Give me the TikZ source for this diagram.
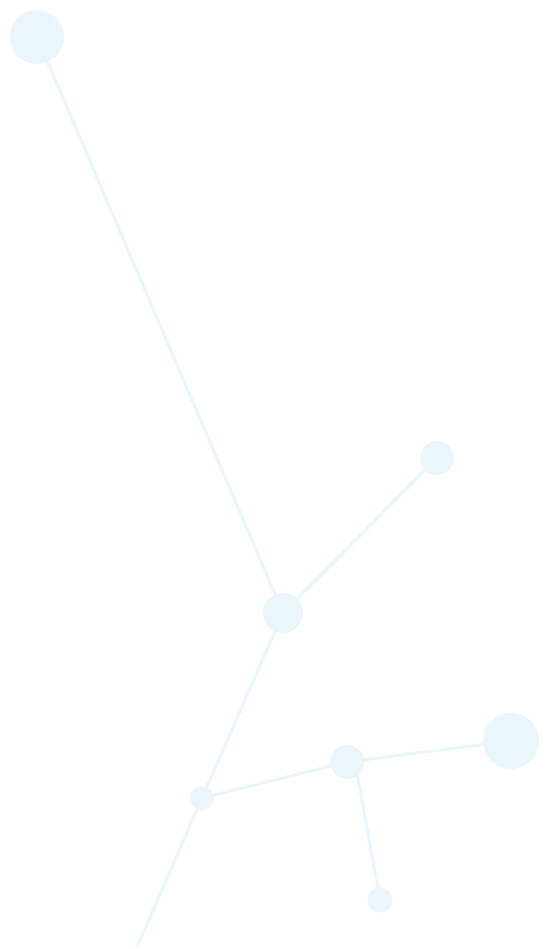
\documentclass[tikz,border=0pt]{standalone}
\definecolor{dotblue}{HTML}{EAF6FC}
\begin{document}
\begin{tikzpicture}[x=1pt,y=-1pt,
  dot/.style={circle,fill=dotblue,draw=none,inner sep=0pt,minimum size=#1},
  link/.style={draw=dotblue,line width=3pt,line cap=round}]
\useasboundingbox (0,0) rectangle (550,949);
\fill[white] (0,0) rectangle (550,949);
\node[dot=54pt] (A) at (37,37) {};
\node[dot=34pt] (B) at (437,458) {};
\node[dot=40pt] (C) at (283,613) {};
\node[dot=24pt] (D) at (202,798) {};
\node[dot=34pt] (E) at (347,762) {};
\node[dot=56pt] (F) at (511,741) {};
\node[dot=25pt] (G) at (380,900) {};
\coordinate (H) at (138,945);
\path[link] (A.center) -- (C.center);
\path[link] (B.center) -- (C.center);
\path[link] (C.center) -- (D.center);
\path[link] (D.center) -- (E.center);
\path[link] (E.center) -- (F.center);
\path[link] ([xshift=8pt]E.center) -- (G.center);
\path[link] (D.center) -- (H);
\end{tikzpicture}
\end{document}
